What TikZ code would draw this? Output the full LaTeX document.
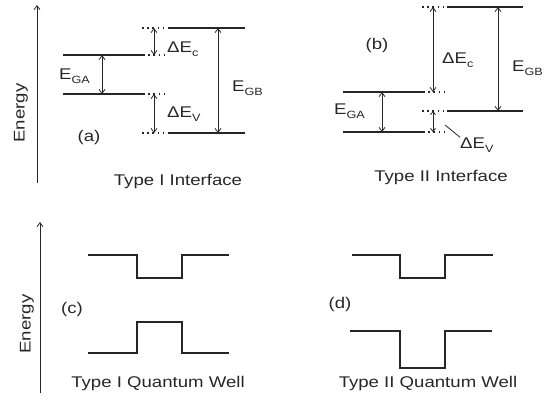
\documentclass[tikz,border=0pt]{standalone}
\usepackage{fontspec}
\newfontfamily\figfont{Liberation Sans}[FakeStretch=1.2]
\usetikzlibrary{arrows.meta}
\definecolor{ink}{HTML}{262626}
\newcommand{\subtxt}[1]{\raisebox{-4.5pt}{\fontsize{10.5}{11}\selectfont #1}}

\begin{document}
\begin{tikzpicture}[x=1pt,y=-1pt,>={Straight Barb[length=4pt,width=6pt]},
 level/.style={line width=2.2pt,color=ink},
 ext/.style={line width=1.6pt,color=ink,dash pattern=on 1.6pt off 3.6pt},
 gap/.style={<->,line width=0.8pt,color=ink},
 axis/.style={->,line width=0.8pt,color=ink},
 well/.style={line width=2.2pt,color=ink,line join=miter},
 lbl/.style={font=\figfont\fontsize{15.5}{17}\selectfont,text=ink,inner sep=0pt}]
 \useasboundingbox (0,0) rectangle (547,408);
 % energy axes
 \coordinate (ax1) at (37,183); \coordinate (ax2) at (37,5);
 \coordinate (ax3) at (40,393); \coordinate (ax4) at (40,222);
 \draw[axis] (ax1)--(ax2);
 \draw[axis] (ax3)--(ax4);
 \node[lbl,rotate=90] (energyA) at (21,113) {Energy};
 \node[lbl,rotate=90] (energyB) at (27,324) {Energy};
 % (a) type I interface
 \foreach \n/\x/\y in {aCA1/63/55,aCA2/143/55,aVA1/63/94,aVA2/143/94,
   aCB1/168/28,aCB2/245/28,aVB1/168/133,aVB2/245/133,
   aEc1/154/28,aEc2/154/55,aEv1/154/94,aEv2/154/133,
   aGA1/102/55,aGA2/102/94,aGB1/218/28,aGB2/218/133}
   \coordinate (\n) at (\x,\y);
 \foreach \p/\q in {aCA1/aCA2,aVA1/aVA2,aCB1/aCB2,aVB1/aVB2} \draw[level] (\p)--(\q);
 \draw[ext] (aCA2)--(165,55) (aVA2)--(165,94) (142,28)--(aCB1) (142,133)--(aVB1);
 \foreach \p/\q in {aEc1/aEc2,aEv1/aEv2,aGA1/aGA2,aGB1/aGB2} \draw[gap] (\p)--(\q);
 \node[lbl,anchor=west] (aEc) at (167,49) {ΔE\subtxt{c}};
 \node[lbl,anchor=west] (aEv) at (167,114) {ΔE\subtxt{V}};
 \node[lbl,anchor=west] (aGA) at (59,76) {E\subtxt{GA}};
 \node[lbl,anchor=west] (aGB) at (232,88) {E\subtxt{GB}};
 \node[lbl] (aTag) at (89,137) {(a)};
 \node[lbl] (aTitle) at (178,181) {Type I Interface};
 % (b) type II interface
 \foreach \n/\x/\y in {bCA1/343/92,bCA2/423/92,bVA1/343/132,bVA2/423/132,
   bCB1/447/7,bCB2/523/7,bVB1/447/111,bVB2/523/111,
   bEc1/433/7,bEc2/433/92,bEv1/433/111,bEv2/433/132,
   bGA1/382/92,bGA2/382/132,bGB1/498/7,bGB2/498/111,bLd1/445/125}
   \coordinate (\n) at (\x,\y);
 \foreach \p/\q in {bCA1/bCA2,bVA1/bVA2,bCB1/bCB2,bVB1/bVB2} \draw[level] (\p)--(\q);
 \draw[ext] (bCA2)--(445,92) (bVA2)--(445,132) (422,7)--(bCB1) (422,111)--(bVB1);
 \foreach \p/\q in {bEc1/bEc2,bGA1/bGA2,bGB1/bGB2} \draw[gap] (\p)--(\q);
 \draw[gap,>={Straight Barb[length=3pt,width=5pt]}] (bEv1)--(bEv2);
 \node[lbl,anchor=west] (bEc) at (442,60) {ΔE\subtxt{c}};
 \node[lbl,anchor=west] (bEv) at (460,145) {ΔE\subtxt{V}};
 \node[lbl,anchor=west] (bGA) at (334,111) {E\subtxt{GA}};
 \node[lbl,anchor=west] (bGB) at (512,68) {E\subtxt{GB}};
 \draw[line width=0.8pt,color=ink] (bLd1)--(bEv.north west);
 \node[lbl] (bTag) at (377,45) {(b)};
 \node[lbl] (bTitle) at (441,177) {Type II Interface};
 % (c) type I quantum well
 \draw[well] (88,255)--(137,255)--(137,278)--(182,278)--(182,255)--(229,255);
 \draw[well] (88,353)--(137,353)--(137,322)--(182,322)--(182,353)--(229,353);
 \node[lbl] (cTag) at (72,309) {(c)};
 \node[lbl] (cTitle) at (158,383) {Type I Quantum Well};
 % (d) type II quantum well
 \draw[well] (352,255)--(400,255)--(400,278)--(445,278)--(445,255)--(493,255);
 \draw[well] (350,331)--(400,331)--(400,368)--(445,368)--(445,331)--(492,331);
 \node[lbl] (dTag) at (340,304) {(d)};
 \node[lbl] (dTitle) at (428,383) {Type II Quantum Well};
\end{tikzpicture}
\end{document}
